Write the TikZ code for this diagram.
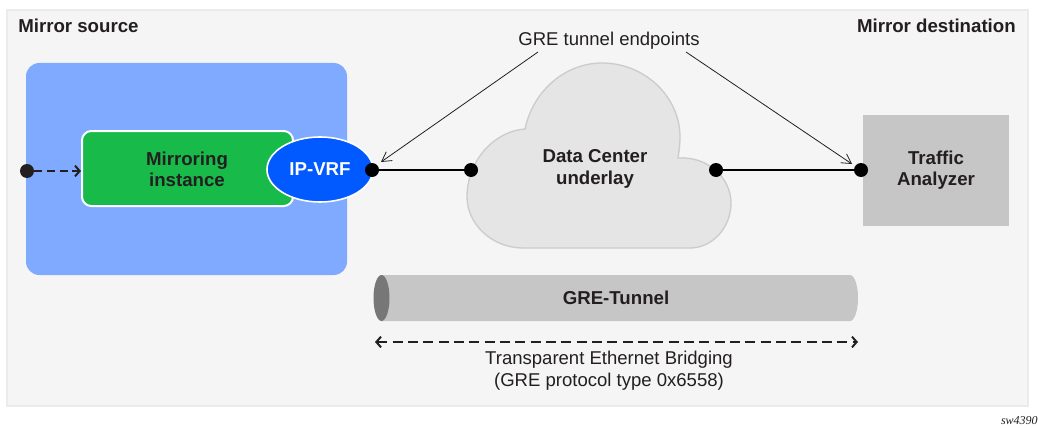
\documentclass[tikz,border=0pt]{standalone}
\usepackage{fontspec}
\setmainfont{Liberation Sans}
\newfontfamily\notefont{Liberation Serif}
\usetikzlibrary{shapes, positioning, calc, arrows.meta}

\definecolor{panelgray}{HTML}{F5F5F5}
\definecolor{panelline}{HTML}{EBEBEB}
\definecolor{sourceblue}{HTML}{7FAAFF}
\definecolor{vrfblue}{HTML}{005AFF}
\definecolor{instgreen}{HTML}{18BA4A}
\definecolor{cloudgray}{HTML}{E5E5E5}
\definecolor{cloudline}{HTML}{CCCCCC}
\definecolor{boxgray}{HTML}{C6C6C6}
\definecolor{capgray}{HTML}{777777}
\definecolor{inkblack}{HTML}{231F20}

\begin{document}
\begin{tikzpicture}[x=0.75pt, y=-0.75pt]
  \newcommand\dotsize{10.5pt}

  \tikzset{boldlabel/.style={font=\fontsize{14pt}{16pt}\selectfont\bfseries, text=inkblack, align=center, inner sep=0pt}}
  \tikzset{pluglabel/.style={font=\fontsize{13.9pt}{16.6pt}\selectfont, text=inkblack, align=center, inner sep=0pt}}
  \tikzset{enddot/.style={circle, fill=black, minimum size=\dotsize, inner sep=0pt}}
  \tikzset{tunnelline/.style={draw=black, line width=1.8pt}}
  \tikzset{dashline/.style={draw=inkblack, line width=1.5pt, dash pattern=on 7.5pt off 4pt, {Straight Barb[length=3.5pt,width=8pt]}-{Straight Barb[length=3.5pt,width=8pt]}}}
  \tikzset{pointer/.style={draw=inkblack, line width=0.6pt, -{Straight Barb[length=7pt,width=8pt]}}}

  \useasboundingbox (0,0) rectangle (1038,428);

  % panel and source box
  \node[draw=panelline, fill=panelgray, line width=1.5pt, minimum width=1021*0.75pt, minimum height=396*0.75pt, inner sep=0pt] (panel) at (517.5,208) {};
  \node[fill=sourceblue, rounded corners=10pt, minimum width=321*0.75pt, minimum height=212*0.75pt, inner sep=0pt] (source) at (186.5,169) {};

  \node[boldlabel, anchor=west] (srclabel) at (18,26) {Mirror source};
  \node[boldlabel, anchor=east] (dstlabel) at (1016,26) {Mirror destination};

  % mirror side
  \node[draw=white, fill=instgreen, line width=1.5pt, rounded corners=7pt, minimum width=211*0.75pt, minimum height=75*0.75pt, inner sep=0pt] (instance) at (187.5,168.5) {};
  \node[boldlabel] (instlabel) at (187,169) {Mirroring\\instance};
  \node[draw=white, fill=vrfblue, line width=1.2pt, ellipse, minimum width=106*0.75pt, minimum height=65*0.75pt, inner sep=0pt, boldlabel, text=white] (ipvrf) at (320,169.5) {IP-VRF};

  % cloud
  \draw[draw=cloudline, fill=cloudgray, line width=1pt] (523,248)
    .. controls (492,248) and (467,224) .. (467,197)
    .. controls (467,160) and (495,131) .. (525,129)
    .. controls (533,91) and (565,63) .. (602,63)
    .. controls (645,63) and (680,97) .. (680,137)
    .. controls (680,145) and (679,151) .. (678,158)
    .. controls (708,156) and (731,178) .. (731,203)
    .. controls (731,228) and (712,248) .. (690,248) -- cycle;
  \node[boldlabel] (cloudlabel) at (595,169) {Data Center\\underlay};

  \node[fill=boxgray, minimum width=146*0.75pt, minimum height=111*0.75pt, inner sep=0pt, boldlabel] (analyzer) at (936,170.5) {Traffic\\Analyzer};

  % tunnel
  \fill[boxgray] (381,275) -- (850,275) arc[start angle=-90, end angle=90, x radius=8, y radius=23] -- (381,321) -- cycle;
  \node[fill=capgray, ellipse, minimum width=16*0.75pt, minimum height=46*0.75pt, inner sep=0pt] (tunnelcap) at (381.5,298) {};
  \node[boldlabel] (tunnellabel) at (616,298) {GRE-Tunnel};

  \coordinate (bridgeleft) at (375,342);
  \coordinate (bridgeright) at (858,342);
  \draw[dashline] (bridgeleft) -- (bridgeright);
  \node[pluglabel] (bridgelabel) at (609,371) {Transparent Ethernet Bridging\\(GRE protocol type 0x6558)};

  % endpoints
  \node[enddot, fill=inkblack] (srcdot) at (27,171) {};
  \foreach \dotname/\dotx in {vrfdot/372, clouddotl/471, clouddotr/716, analyzerdot/861}{
    \node[enddot] (\dotname) at (\dotx,170) {};
  }
  \draw[draw=inkblack, line width=1.5pt, dash pattern=on 6pt off 3.5pt, -{Straight Barb[length=3.5pt,width=8pt]}] (srcdot) -- (instance.west |- srcdot);
  \draw[tunnelline] (vrfdot) -- (clouddotl);
  \draw[tunnelline] (clouddotr) -- (analyzerdot);

  % endpoint pointers
  \node[pluglabel] (grelabel) at (609,41) {GRE tunnel endpoints};
  \coordinate (greleft) at (538,52);
  \coordinate (greright) at (686,52);
  \coordinate (leftend) at (381,162);
  \coordinate (rightend) at (852,164);
  \draw[pointer] (greleft) -- (leftend);
  \draw[pointer] (greright) -- (rightend);

  \node[font=\fontsize{9pt}{11pt}\selectfont\notefont\itshape, text=inkblack, inner sep=0pt, anchor=east] (swlabel) at (1038,421) {sw4390};
\end{tikzpicture}
\end{document}
